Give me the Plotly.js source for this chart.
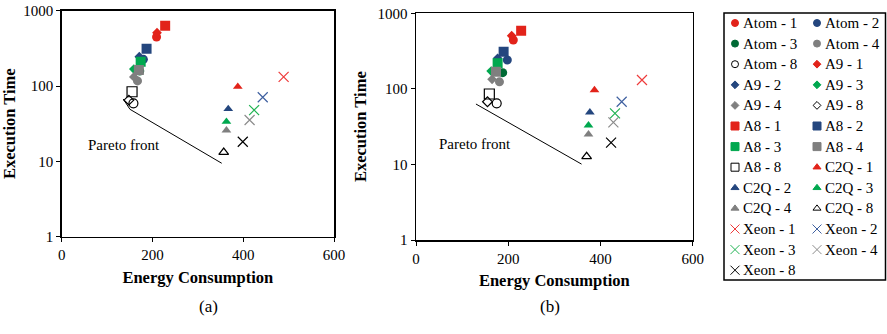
<!DOCTYPE html>
<html><head><meta charset="utf-8">
<script src="https://cdn.plot.ly/plotly-3.0.1.min.js"></script>
<style>html,body{margin:0;padding:0;background:#fff}</style>
</head><body><div id="chart" style="width:887px;height:334px"></div>
<script>
// ---- data ----
const seriesNames = ['Atom - 1','Atom - 2','Atom - 3','Atom - 4','Atom - 8',
  'A9 - 1','A9 - 2','A9 - 3','A9 - 4','A9 - 8',
  'A8 - 1','A8 - 2','A8 - 3','A8 - 4','A8 - 8',
  'C2Q - 1','C2Q - 2','C2Q - 3','C2Q - 4','C2Q - 8',
  'Xeon - 1','Xeon - 2','Xeon - 3','Xeon - 4','Xeon - 8'];
const energyA = [209,180,172,167,158, 210,171,159,159,148, 228,187,174,170,155, 388,367,363,363,357, 489,443,424,414,399];
const timeA   = [447,226,158,117,59, 510,245,168,132,65, 632,313,210,163,84, 98,49.6,33.6,25.8,13.2, 132,71,48,35.4,18.2];
const energyB = [211,198,188,181,175, 207.5,177,163,165,155, 228,190,177,173.5,159, 387,377,374,374,370, 490,446,431.5,428,423];
const timeB   = [443,241,164,124,64.4, 505,254,172,134,67.6, 588,310,218,169,85.5, 96.6,49,33,25,12.7, 131,67.6,47.5,36,19.4];
const paretoAX = [135.6,150.4,352.6];
const paretoAY = [67.3,49.1,9.44];
const paretoBX = [130,359];
const paretoBY = [63,10.1];
const xTicks = [0,200,400,600];
const yTicks = [1,10,100,1000];
const panelLabels = ['(a)','(b)'];
const xTitle = 'Energy Consumption';
const yTitle = 'Execution Time';
const paretoLabel = 'Pareto front';

// ---- styles ----
const FONT = "'Liberation Serif', 'Times New Roman', serif";
const familySymbol = {Atom:'circle', A9:'diamond', A8:'square', C2Q:'triangle-up', Xeon:'x-thin-open'};
const familySize = {Atom:9, A9:7.5, A8:10, C2Q:8.5, Xeon:10};
const legendSize = {Atom:7, A9:6, A8:8, C2Q:7, Xeon:9};
const coreColor = {'1':'#E2231A','2':'#24467E','3':'#00A84F','4':'#7F7F7F','8':'#000000'};
const xeonColor = {'1':'#EE3B3B','2':'#3F60A0','3':'#22B454','4':'#8C8C8C','8':'#000000'};

function styleOf(name){
  const parts = name.split(' - ');
  const fam = parts[0], core = parts[1];
  let symbol = familySymbol[fam];
  let color = fam === 'Xeon' ? xeonColor[core] : coreColor[core];
  if(fam === 'Atom' && core === '3') color = '#006A35';
  if(core === '8' && fam !== 'Xeon') symbol = symbol + '-open';
  return {fam, symbol, color};
}

const traces = [];
seriesNames.forEach((name,i)=>{
  const s = styleOf(name);
  const marker = {symbol:s.symbol, size:familySize[s.fam], color:s.color, opacity:1,
    line:{width: (s.fam==='Xeon'||s.symbol.endsWith('-open')) ? 1.2 : 0, color:s.color}};
  traces.push({type:'scatter', mode:'markers', name, x:[energyA[i]], y:[timeA[i]],
    xaxis:'x', yaxis:'y', marker, opacity:1, showlegend:false});
  traces.push({type:'scatter', mode:'markers', name, x:[energyB[i]], y:[timeB[i]],
    xaxis:'x2', yaxis:'y2', marker, opacity:1, showlegend:false});
});
traces.push({type:'scatter', mode:'lines', x:paretoAX, y:paretoAY, xaxis:'x', yaxis:'y',
  line:{color:'#000', width:1}, showlegend:false, hoverinfo:'skip'});
traces.push({type:'scatter', mode:'lines', x:paretoBX, y:paretoBY, xaxis:'x2', yaxis:'y2',
  line:{color:'#000', width:1}, showlegend:false, hoverinfo:'skip'});

// ---- manual two-column legend on a hidden axis (pixel units inside the box) ----
const legX0 = 11, legColGap = 82, legY0 = 10, legRowGap = 20.6;
const legendX = [], legendY = [], legendSym = [], legendCol = [], legendSz = [];
const annotations = [];
seriesNames.forEach((name,i)=>{
  const s = styleOf(name);
  const col = i % 2, row = Math.floor(i/2);
  legendX.push(legX0 + col*legColGap);
  legendY.push(legY0 + row*legRowGap);
  legendSym.push(s.symbol); legendCol.push(s.color); legendSz.push(legendSize[s.fam]);
  annotations.push({xref:'x3', yref:'y3', x:legX0 + col*legColGap + 6, y:legY0 + row*legRowGap,
    text:name, showarrow:false, xanchor:'left', yanchor:'middle',
    font:{family:FONT, size:15, color:'#000'}});
});
traces.push({type:'scatter', mode:'markers', x:legendX, y:legendY, xaxis:'x3', yaxis:'y3',
  text:seriesNames, hoverinfo:'text', showlegend:false, opacity:1,
  marker:{symbol:legendSym, color:legendCol, size:legendSz, opacity:1, line:{width:1, color:legendCol}}});

// panel labels and pareto text
annotations.push({xref:'paper', yref:'paper', x:197/887, y:1-318/334, text:panelLabels[0],
  showarrow:false, font:{family:FONT, size:17, color:'#000'}});
annotations.push({xref:'paper', yref:'paper', x:550/887, y:1-318/334, text:panelLabels[1],
  showarrow:false, font:{family:FONT, size:17, color:'#000'}});
annotations.push({xref:'x', yref:'y', x:137, y:Math.log10(16.5), text:paretoLabel,
  showarrow:false, font:{family:FONT, size:15, color:'#000'}});
annotations.push({xref:'x2', yref:'y2', x:128, y:Math.log10(18.6), text:paretoLabel,
  showarrow:false, font:{family:FONT, size:15, color:'#000'}});

function xAx(domain){
  return {domain, range:[0,600], tickvals:xTicks, ticktext:xTicks.map(String),
    showgrid:false, zeroline:false, showline:true, mirror:true, linecolor:'#000', linewidth:1.5,
    ticks:'outside', ticklen:4, tickcolor:'#000', tickwidth:1,
    tickfont:{family:FONT, size:15, color:'#000'},
    title:{text:'<b>'+xTitle+'</b>', font:{family:FONT, size:16.5, color:'#000'}, standoff:9},
    fixedrange:true};
}
function yAx(domain, anchor){
  return {domain, anchor, type:'log', range:[0,3], tickvals:yTicks, ticktext:yTicks.map(String),
    showgrid:false, zeroline:false, showline:true, mirror:true, linecolor:'#000', linewidth:1.5,
    ticks:'outside', ticklen:4, tickcolor:'#000', tickwidth:1,
    tickfont:{family:FONT, size:15, color:'#000'},
    title:{text:'<b>'+yTitle+'</b>', font:{family:FONT, size:16.5, color:'#000'}, standoff:6},
    fixedrange:true};
}

const layout = {
  width:887, height:334, margin:{l:0,r:0,t:0,b:0}, paper_bgcolor:'#fff', plot_bgcolor:'#fff',
  showlegend:false,
  xaxis: Object.assign(xAx([61.7/887, 334/887]), {anchor:'y'}),
  yaxis: yAx([1-236.7/334, 1-10.7/334], 'x'),
  xaxis2: Object.assign(xAx([416/887, 692.7/887]), {anchor:'y2'}),
  yaxis2: yAx([1-240/334, 1-13.3/334], 'x2'),
  xaxis3: {domain:[724/887, 886/887], range:[0,162], visible:false, anchor:'y3', fixedrange:true},
  yaxis3: {domain:[1-280/334, 1-13/334], range:[267,0], visible:false, anchor:'x3', fixedrange:true},
  shapes:[{type:'rect', xref:'paper', yref:'paper', x0:724/887, x1:885.5/887, y0:1-280/334, y1:1-13/334,
    line:{color:'#000', width:1.5}, fillcolor:'rgba(0,0,0,0)'}],
  annotations
};
Plotly.newPlot('chart', traces, layout, {displayModeBar:false, staticPlot:true});
</script></body></html>
